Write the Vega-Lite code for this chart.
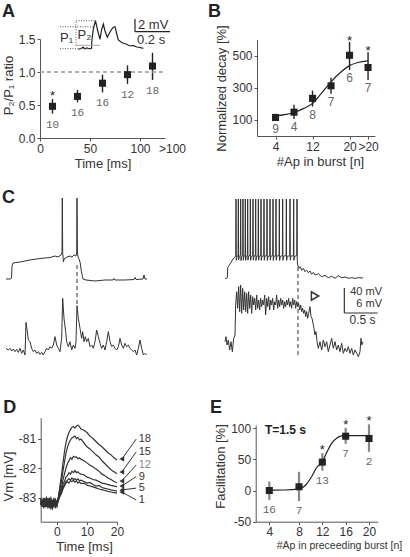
{
"$schema":"https://vega.github.io/schema/vega-lite/v6.json",
"width":410,"height":557,"padding":0,"autosize":{"type":"none"},"background":"white",
"config":{"view":{"stroke":null},"font":"Liberation Sans","axis":{"grid":false,"labelFontSize":12,"labelColor":"#333","titleFontSize":13,"titleFontWeight":"normal","titleColor":"#333","domainColor":"#555","tickColor":"#555","tickSize":3,"labelFlush":false,"labelOverlap":false,"labelPadding":2,"titlePadding":3}},
"datasets":{
"aPts":[{"x":12.5,"y":0.48,"lo":0.37,"hi":0.59,"n":"10","sig":true},{"x":37.5,"y":0.63,"lo":0.54,"hi":0.73,"n":"16","sig":false},{"x":62.5,"y":0.83,"lo":0.69,"hi":0.96,"n":"16","sig":false},{"x":87.5,"y":0.96,"lo":0.82,"hi":1.10,"n":"12","sig":false},{"x":112.5,"y":1.09,"lo":0.88,"hi":1.29,"n":"18","sig":false}],
"aTrace":[{"x":38.3,"y":1.344},{"x":41,"y":1.356},{"x":43,"y":1.374},{"x":45,"y":1.352},{"x":47,"y":1.364},{"x":49,"y":1.353},{"x":51.5,"y":1.356},{"x":52,"y":1.5},{"x":53.5,"y":1.667},{"x":55.5,"y":1.777},{"x":57.5,"y":1.636},{"x":60,"y":1.495},{"x":61.5,"y":1.636},{"x":63.3,"y":1.727},{"x":65,"y":1.621},{"x":67.3,"y":1.526},{"x":70,"y":1.606},{"x":73,"y":1.674},{"x":75,"y":1.686},{"x":76.5,"y":1.591},{"x":78.3,"y":1.485},{"x":81,"y":1.455},{"x":83.3,"y":1.435},{"x":86,"y":1.424},{"x":90,"y":1.394},{"x":93,"y":1.402},{"x":96.7,"y":1.379},{"x":100,"y":1.371},{"x":103.3,"y":1.359}],
"aDot":[{"x":20,"x2":52,"y":1.353,"y2":1.353},{"x":20,"x2":55,"y":1.686,"y2":1.686},{"x":36,"x2":56,"y":1.777,"y2":1.777},{"x":36,"x2":36,"y":1.404,"y2":1.777}],
"aGray":[{"x":36,"x2":60,"y":1.404,"y2":1.404}],
"aBar":[{"x":95,"x2":95,"y":1.611,"y2":1.803},{"x":95,"x2":130,"y":1.611,"y2":1.611}],
"aTxt":[{"x":98,"y":1.712,"t":"2 mV"},{"x":97,"y":1.485,"t":"0.2 s"},{"x":20,"y":1.515,"t":"P₁"},{"x":37.5,"y":1.56,"t":"P₂"}],
"bPts":[{"x":4,"y":115,"lo":95,"hi":138,"n":"9","sig":false},{"x":8,"y":148,"lo":105,"hi":195,"n":"4","sig":false},{"x":12,"y":234,"lo":183,"hi":282,"n":"8","sig":false},{"x":16,"y":312,"lo":262,"hi":362,"n":"7","sig":false},{"x":20,"y":502,"lo":410,"hi":585,"n":"6","sig":true},{"x":24,"y":426,"lo":348,"hi":520,"n":"7","sig":true}],
"bFit":[{"x":3.9,"y":125},{"x":6,"y":133},{"x":8.2,"y":148},{"x":10,"y":170},{"x":12,"y":203},{"x":13.9,"y":265},{"x":16,"y":337},{"x":18.2,"y":399},{"x":19.9,"y":436},{"x":21.8,"y":457},{"x":24,"y":467}],
"cLu":[{"t":0,"v":-70},{"t":60,"v":-70},{"t":82.5,"v":-68.4},{"t":90,"v":-49.2},{"t":105,"v":-44.4},{"t":210,"v":-42.8},{"t":360,"v":-39.6},{"t":510,"v":-37.2},{"t":660,"v":-35.6},{"t":735,"v":-33.2},{"t":780,"v":-34.8},{"t":825,"v":-31.6},{"t":840,"v":-28.4},{"t":844.5,"v":59.6},{"t":850.5,"v":-28.4},{"t":862.5,"v":-42.8},{"t":870,"v":-38},{"t":915,"v":-34.8},{"t":960,"v":-33.2},{"t":990,"v":-34.8},{"t":1020,"v":-31.6},{"t":1050,"v":-33.2},{"t":1060.5,"v":-28.4},{"t":1065,"v":59.6},{"t":1071,"v":-26.8},{"t":1080,"v":-34.8},{"t":1095,"v":-38},{"t":1110,"v":-42.8},{"t":1132.5,"v":-58.8},{"t":1155,"v":-70},{"t":1200,"v":-71.6},{"t":1335,"v":-73.2},{"t":1485,"v":-71.6},{"t":1605,"v":-71.6},{"t":1620,"v":-69.2},{"t":1635,"v":-71.6},{"t":1785,"v":-71.6},{"t":1920,"v":-70.8},{"t":1935,"v":-67.6},{"t":1950,"v":-70.8},{"t":2055,"v":-70},{"t":2070,"v":-63.6},{"t":2085,"v":-70},{"t":2115,"v":-70}],
"cLl":[{"t":0,"v":0.4},{"t":35,"v":0},{"t":60,"v":0.4},{"t":85,"v":-0.24},{"t":110,"v":0.24},{"t":135,"v":-0.4},{"t":160,"v":0.16},{"t":185,"v":-0.56},{"t":210,"v":0.4},{"t":235,"v":-0.8},{"t":260,"v":0},{"t":285,"v":-1.2},{"t":300,"v":6.64},{"t":320,"v":4.4},{"t":335,"v":2.4},{"t":360,"v":2.0},{"t":385,"v":0.4},{"t":410,"v":-0.4},{"t":435,"v":0},{"t":460,"v":-0.8},{"t":485,"v":-0.4},{"t":510,"v":-1.04},{"t":535,"v":-0.56},{"t":560,"v":-1.2},{"t":585,"v":-0.4},{"t":610,"v":0.4},{"t":635,"v":0},{"t":660,"v":0.8},{"t":685,"v":0.4},{"t":710,"v":1.2},{"t":735,"v":3.2},{"t":760,"v":1.2},{"t":785,"v":0.4},{"t":810,"v":-0.4},{"t":835,"v":2.8},{"t":850,"v":12.4},{"t":870,"v":7.6},{"t":895,"v":4.4},{"t":910,"v":2.0},{"t":935,"v":0.8},{"t":960,"v":2.0},{"t":985,"v":0},{"t":1010,"v":1.2},{"t":1035,"v":0.4},{"t":1050,"v":2.0},{"t":1065,"v":10.64},{"t":1085,"v":7.6},{"t":1110,"v":5.2},{"t":1135,"v":2.8},{"t":1150,"v":4.4},{"t":1170,"v":2.0},{"t":1190,"v":3.2},{"t":1210,"v":2.0},{"t":1235,"v":2.8},{"t":1260,"v":0.8},{"t":1285,"v":1.2},{"t":1310,"v":0.4},{"t":1335,"v":2.0},{"t":1360,"v":4.8},{"t":1385,"v":3.2},{"t":1410,"v":1.6},{"t":1435,"v":0.4},{"t":1460,"v":1.2},{"t":1485,"v":0},{"t":1510,"v":2.0},{"t":1535,"v":4.4},{"t":1560,"v":2.0},{"t":1585,"v":0.8},{"t":1610,"v":1.2},{"t":1635,"v":0.4},{"t":1660,"v":0},{"t":1685,"v":0.8},{"t":1710,"v":2.8},{"t":1735,"v":1.2},{"t":1760,"v":0.4},{"t":1785,"v":1.6},{"t":1810,"v":0.8},{"t":1835,"v":1.2},{"t":1860,"v":0.4},{"t":1885,"v":0},{"t":1910,"v":-0.4},{"t":1935,"v":0},{"t":1960,"v":-1.2},{"t":1985,"v":0.4},{"t":2010,"v":2.4},{"t":2035,"v":0.4},{"t":2060,"v":-1.2},{"t":2085,"v":-0.8},{"t":2110,"v":-1.2}],
"cRu":[{"t":0,"v":-70.5},{"t":20,"v":-70.5},{"t":35,"v":-69.5},{"t":40,"v":-53.5},{"t":60,"v":-50.3},{"t":90,"v":-44.9},{"t":120,"v":-39.6},{"t":150,"v":-35.9},
{"t":161,"v":-34.3},{"t":165,"v":56.4},{"t":169,"v":-41.7},{"t":179,"v":-35.3},
{"t":196,"v":-34.6},{"t":200,"v":56.4},{"t":204,"v":-41.2},{"t":214,"v":-35},
{"t":231,"v":-34},{"t":235,"v":56.4},{"t":239,"v":-42},{"t":249,"v":-35.5},
{"t":266,"v":-34.5},{"t":270,"v":56.4},{"t":274,"v":-41.5},{"t":284,"v":-34.8},
{"t":301,"v":-34.2},{"t":305,"v":56.4},{"t":309,"v":-41.9},{"t":319,"v":-35.2},
{"t":336,"v":-34.4},{"t":340,"v":56.4},{"t":344,"v":-41.3},{"t":354,"v":-35},
{"t":376,"v":-33.8},{"t":380,"v":56.4},{"t":384,"v":-41.8},{"t":394,"v":-35.4},
{"t":416,"v":-34.5},{"t":420,"v":56.4},{"t":424,"v":-41.5},{"t":434,"v":-34.9},
{"t":456,"v":-34},{"t":460,"v":56.4},{"t":464,"v":-42},{"t":474,"v":-35.3},
{"t":496,"v":-34.6},{"t":500,"v":56.4},{"t":504,"v":-41.4},{"t":514,"v":-35},
{"t":536,"v":-34.2},{"t":540,"v":56.4},{"t":544,"v":-41.8},{"t":554,"v":-35.4},
{"t":581,"v":-34.5},{"t":585,"v":56.4},{"t":589,"v":-41.6},{"t":599,"v":-35},
{"t":626,"v":-34.1},{"t":630,"v":56.4},{"t":634,"v":-42},{"t":644,"v":-35.5},
{"t":671,"v":-34.6},{"t":675,"v":56.4},{"t":679,"v":-41.3},{"t":689,"v":-35.1},
{"t":716,"v":-34.3},{"t":720,"v":56.4},{"t":724,"v":-41.8},{"t":734,"v":-35.2},
{"t":761,"v":-34.5},{"t":765,"v":56.4},{"t":769,"v":-41.5},{"t":779,"v":-35},
{"t":811,"v":-34},{"t":815,"v":56.4},{"t":819,"v":-42},{"t":829,"v":-35.4},
{"t":861,"v":-34.4},{"t":865,"v":56.4},{"t":869,"v":-41.6},{"t":879,"v":-35.1},
{"t":916,"v":-34.2},{"t":920,"v":56.4},{"t":924,"v":-41.9},{"t":934,"v":-35.3},
{"t":971,"v":-34.6},{"t":975,"v":56.4},{"t":979,"v":-41.4},{"t":989,"v":-35},
{"t":1026,"v":-34.3},{"t":1030,"v":56.4},{"t":1034,"v":-41.7},{"t":1044,"v":-35.2},
{"t":1076,"v":-34.5},{"t":1080,"v":56.4},{"t":1084,"v":-41.8},
{"t":1090,"v":-49.2},{"t":1110,"v":-54.5},{"t":1130,"v":-51.9},{"t":1150,"v":-57.7},{"t":1175,"v":-54.5},{"t":1200,"v":-59.9},{"t":1225,"v":-57.2},{"t":1250,"v":-61.5},{"t":1275,"v":-58.8},{"t":1300,"v":-64.1},{"t":1325,"v":-60.9},{"t":1350,"v":-65.2},{"t":1400,"v":-63.1},{"t":1450,"v":-67.9},{"t":1500,"v":-65.7},{"t":1550,"v":-69.5},{"t":1600,"v":-67.3},{"t":1650,"v":-70.5},{"t":1700,"v":-66.3},{"t":1750,"v":-69.5},{"t":1800,"v":-68.4},{"t":1850,"v":-70.5},{"t":1900,"v":-69.5},{"t":1950,"v":-70.5},{"t":2000,"v":-69.5},{"t":2070,"v":-70}],
"cRl":[{"t":0,"v":1.28},{"t":15,"v":2.48},{"t":30,"v":0.48},{"t":50,"v":1.68},{"t":70,"v":-0.72},{"t":90,"v":1.28},{"t":110,"v":-1.12},{"t":130,"v":2.08},{"t":150,"v":2.88},{"t":160,"v":10.08},{"t":175,"v":13.28},{"t":190,"v":9.28},{"t":205,"v":14.48},{"t":220,"v":8.48},{"t":235,"v":14.88},{"t":250,"v":8.08},{"t":265,"v":14.08},{"t":280,"v":8.88},{"t":295,"v":13.28},{"t":310,"v":8.48},{"t":325,"v":12.88},{"t":340,"v":8.08},{"t":355,"v":13.28},{"t":370,"v":9.28},{"t":385,"v":12.48},{"t":400,"v":8.08},{"t":415,"v":12.08},{"t":430,"v":10.08},{"t":445,"v":11.68},{"t":460,"v":8.88},{"t":475,"v":12.48},{"t":490,"v":9.28},{"t":505,"v":11.28},{"t":520,"v":8.88},{"t":535,"v":11.68},{"t":550,"v":9.68},{"t":565,"v":11.28},{"t":580,"v":10.08},{"t":595,"v":12.48},{"t":610,"v":7.68},{"t":625,"v":11.68},{"t":640,"v":9.68},{"t":655,"v":12.08},{"t":670,"v":8.88},{"t":685,"v":11.28},{"t":700,"v":10.08},{"t":715,"v":11.68},{"t":730,"v":8.88},{"t":745,"v":10.88},{"t":760,"v":10.08},{"t":775,"v":12.48},{"t":790,"v":9.28},{"t":805,"v":11.28},{"t":820,"v":9.68},{"t":835,"v":11.68},{"t":850,"v":10.08},{"t":865,"v":11.28},{"t":880,"v":9.28},{"t":895,"v":10.88},{"t":910,"v":9.68},{"t":925,"v":11.28},{"t":940,"v":10.08},{"t":955,"v":11.68},{"t":970,"v":9.68},{"t":985,"v":10.88},{"t":1000,"v":9.28},{"t":1015,"v":11.68},{"t":1030,"v":10.08},{"t":1045,"v":11.28},{"t":1060,"v":9.28},{"t":1075,"v":10.88},{"t":1090,"v":9.68},{"t":1105,"v":10.48},{"t":1120,"v":8.88},{"t":1135,"v":10.08},{"t":1150,"v":8.48},{"t":1165,"v":9.28},{"t":1180,"v":8.08},{"t":1195,"v":8.88},{"t":1210,"v":7.28},{"t":1225,"v":8.48},{"t":1240,"v":6.88},{"t":1255,"v":8.08},{"t":1275,"v":9.68},{"t":1290,"v":7.28},{"t":1305,"v":6.88},{"t":1320,"v":5.68},{"t":1335,"v":4.48},{"t":1350,"v":2.88},{"t":1365,"v":3.68},{"t":1380,"v":1.28},{"t":1400,"v":-0.32},{"t":1425,"v":1.28},{"t":1450,"v":-0.72},{"t":1475,"v":1.68},{"t":1500,"v":0.08},{"t":1525,"v":1.28},{"t":1550,"v":-1.12},{"t":1575,"v":0.48},{"t":1600,"v":2.08},{"t":1625,"v":-0.32},{"t":1650,"v":1.28},{"t":1675,"v":-0.72},{"t":1700,"v":0.48},{"t":1725,"v":-1.12},{"t":1750,"v":0.88},{"t":1775,"v":-1.52},{"t":1800,"v":-0.32},{"t":1825,"v":-1.12},{"t":1850,"v":0.08},{"t":1875,"v":-1.52},{"t":1900,"v":-0.32},{"t":1925,"v":-1.92},{"t":1950,"v":-0.72},{"t":1975,"v":-1.52},{"t":2000,"v":-2.32},{"t":2025,"v":-1.12},{"t":2040,"v":2.08},{"t":2050,"v":0.48},{"t":2070,"v":1.28}],
"cRbar":[{"t":1790,"t2":1790,"v":-126,"v2":-86},{"t":1790,"t2":2290,"v":-126,"v2":-126}],
"cRtxt":[{"t":2355,"v":-92.4,"s":"40 mV"},{"t":2355,"v":-110.8,"s":"6 mV"}],
"dTr":[{"t":-5.4,"a":-83.15,"b":-83.05,"c":-83.25,"d":-83.1,"e":-83.2,"f":-83.0},{"t":-5,"a":-83.3,"b":-83.2,"c":-83.1,"d":-83.25,"e":-83.05,"f":-83.2},{"t":-4.5,"a":-83.05,"b":-83.3,"c":-83.2,"d":-83.0,"e":-83.3,"f":-83.15},{"t":-4,"a":-83.25,"b":-83.1,"c":-83.0,"d":-83.3,"e":-83.15,"f":-83.3},{"t":-3.5,"a":-83.1,"b":-83.25,"c":-83.3,"d":-83.15,"e":-83.0,"f":-83.1},{"t":-3,"a":-83.3,"b":-83.0,"c":-83.15,"d":-83.25,"e":-83.25,"f":-83.35},{"t":-2.5,"a":-83.0,"b":-83.2,"c":-83.3,"d":-83.05,"e":-83.1,"f":-83.15},{"t":-2,"a":-83.2,"b":-83.35,"c":-83.05,"d":-83.2,"e":-83.3,"f":-83.0},{"t":-1.5,"a":-83.35,"b":-83.1,"c":-83.25,"d":-83.3,"e":-83.15,"f":-83.25},{"t":-1,"a":-83.1,"b":-83.25,"c":-83.1,"d":-83.0,"e":-83.3,"f":-83.2},{"t":-0.5,"a":-83.25,"b":-83.05,"c":-83.3,"d":-83.2,"e":-83.1,"f":-83.3},{"t":0,"a":-83.1,"b":-83.2,"c":-83.15,"d":-83.3,"e":-83.2,"f":-83.1},{"t":0.5,"a":-83.05,"b":-83.1,"c":-83.0,"d":-83.05,"e":-82.95,"f":-83.0},{"t":1,"a":-82.95,"b":-82.9,"c":-82.85,"d":-82.8,"e":-82.7,"f":-82.6},{"t":1.5,"a":-82.85,"b":-82.8,"c":-82.75,"d":-82.65,"e":-82.45,"f":-82.25},{"t":2,"a":-82.7,"b":-82.65,"c":-82.55,"d":-82.4,"e":-82.1,"f":-81.85},{"t":2.5,"a":-82.6,"b":-82.55,"c":-82.45,"d":-82.2,"e":-81.8,"f":-81.45},{"t":3,"a":-82.5,"b":-82.45,"c":-82.3,"d":-82.0,"e":-81.5,"f":-81.15},{"t":3.5,"a":-82.45,"b":-82.4,"c":-82.25,"d":-81.85,"e":-81.3,"f":-80.95},{"t":4,"a":-82.5,"b":-82.35,"c":-82.15,"d":-81.75,"e":-81.15,"f":-80.8},{"t":4.5,"a":-82.42,"b":-82.4,"c":-82.2,"d":-81.65,"e":-81.05,"f":-80.7},{"t":5,"a":-82.45,"b":-82.33,"c":-82.1,"d":-81.7,"e":-80.98,"f":-80.62},{"t":5.5,"a":-82.4,"b":-82.38,"c":-82.15,"d":-81.6,"e":-80.95,"f":-80.6},{"t":6,"a":-82.47,"b":-82.35,"c":-82.08,"d":-81.63,"e":-80.92,"f":-80.65},{"t":6.5,"a":-82.43,"b":-82.4,"c":-82.15,"d":-81.62,"e":-81.0,"f":-80.58},{"t":7,"a":-82.5,"b":-82.36,"c":-82.12,"d":-81.68,"e":-80.96,"f":-80.55},{"t":7.5,"a":-82.46,"b":-82.42,"c":-82.18,"d":-81.65,"e":-81.05,"f":-80.6},{"t":8,"a":-82.52,"b":-82.4,"c":-82.2,"d":-81.7,"e":-81.02,"f":-80.68},{"t":9,"a":-82.5,"b":-82.45,"c":-82.22,"d":-81.75,"e":-81.15,"f":-80.72},{"t":10,"a":-82.57,"b":-82.5,"c":-82.3,"d":-81.82,"e":-81.28,"f":-80.8},{"t":11,"a":-82.6,"b":-82.48,"c":-82.33,"d":-81.9,"e":-81.35,"f":-80.92},{"t":12,"a":-82.63,"b":-82.55,"c":-82.38,"d":-81.95,"e":-81.45,"f":-81.0},{"t":13,"a":-82.66,"b":-82.6,"c":-82.4,"d":-82.03,"e":-81.55,"f":-81.1},{"t":14,"a":-82.7,"b":-82.58,"c":-82.45,"d":-82.1,"e":-81.62,"f":-81.2},{"t":15,"a":-82.72,"b":-82.65,"c":-82.5,"d":-82.2,"e":-81.75,"f":-81.28},{"t":16,"a":-82.75,"b":-82.68,"c":-82.52,"d":-82.25,"e":-81.85,"f":-81.38},{"t":17,"a":-82.78,"b":-82.7,"c":-82.55,"d":-82.33,"e":-81.95,"f":-81.48},{"t":18,"a":-82.8,"b":-82.73,"c":-82.58,"d":-82.38,"e":-82.05,"f":-81.55},{"t":19,"a":-82.82,"b":-82.75,"c":-82.6,"d":-82.45,"e":-82.12,"f":-81.65},{"t":20,"a":-82.84,"b":-82.77,"c":-82.62,"d":-82.49,"e":-82.19,"f":-81.72}],
"dArr":[{"lab":"18","sx":26.4,"lx":27.2,"ly":-81.02,"ex":21.6,"ey":-81.69},{"lab":"15","sx":26.4,"lx":27.2,"ly":-81.45,"ex":21.6,"ey":-82.13},{"lab":"12","sx":26.4,"lx":27.2,"ly":-81.89,"ex":21.6,"ey":-82.43},{"lab":"9","sx":26.4,"lx":27.2,"ly":-82.28,"ex":21.6,"ey":-82.6},{"lab":"5","sx":26.4,"lx":27.2,"ly":-82.67,"ex":21.6,"ey":-82.73},{"lab":"1","sx":26.4,"lx":27.2,"ly":-83.07,"ex":21.6,"ey":-82.8}],
"ePts":[{"x":4,"y":0,"lo":-15,"hi":14.5,"n":"16","sig":false},{"x":8,"y":6,"lo":-17,"hi":30,"n":"7","sig":false},{"x":12,"y":45.5,"lo":31.6,"hi":60,"n":"13","sig":true},{"x":16,"y":87,"lo":74.8,"hi":100.5,"n":"7","sig":true},{"x":20,"y":83.4,"lo":62,"hi":106,"n":"2","sig":true}],
"eFit":[{"x":4,"y":0.5},{"x":6,"y":0.8},{"x":8,"y":2.5},{"x":9.3,"y":10.4},{"x":10.2,"y":22.8},{"x":11,"y":36.5},{"x":12,"y":46.2},{"x":12.75,"y":60.9},{"x":13.6,"y":75.6},{"x":14.45,"y":83.7},{"x":15.3,"y":87.5},{"x":16,"y":88},{"x":18,"y":88},{"x":20,"y":88}]
},
"layer":[
{"layer":[
 {"data":{"name":"aPts"},"mark":{"type":"rule","color":"#222","strokeWidth":1.4},
  "encoding":{
   "x":{"field":"x","type":"quantitative","scale":{"domain":[0,125],"range":[40,165],"nice":false,"zero":false},
        "axis":{"orient":"bottom","offset":-419,"values":[0,50,100,125],"labelExpr":"datum.value==125 ? '>100' : datum.label","labelOffset":{"condition":{"test":"datum.value==125","value":7},"value":0},"tickOpacity":{"condition":{"test":"datum.value==125","value":0},"value":1},"title":"Time [ms]"}},
   "y":{"field":"lo","type":"quantitative","scale":{"domain":[0,1.5],"range":[138,39],"nice":false,"zero":false},
        "axis":{"orient":"left","offset":-40,"values":[0,0.5,1,1.5],"format":".1f","title":"P₂/P₁ ratio","titleY":85}},
   "y2":{"field":"hi"}}},
 {"data":{"values":[{}]},"mark":{"type":"rule","color":"#999","strokeDash":[4,3],"strokeWidth":1.3},"encoding":{"x":{"datum":0,"type":"quantitative"},"x2":{"datum":125},"y":{"datum":1,"type":"quantitative"}}},
 {"data":{"name":"aPts"},"mark":{"type":"point","shape":"square","filled":true,"color":"#222","size":50,"opacity":1},"encoding":{"x":{"field":"x","type":"quantitative"},"y":{"field":"y","type":"quantitative"}}},
 {"data":{"name":"aPts"},"mark":{"type":"text","font":"Liberation Mono","fontSize":11,"color":"#666","baseline":"middle","dy":11},"encoding":{"x":{"field":"x","type":"quantitative"},"y":{"field":"lo","type":"quantitative"},"text":{"field":"n"}}},
 {"data":{"name":"aPts"},"transform":[{"filter":"datum.sig"}],"mark":{"type":"text","fontSize":13,"color":"#222","baseline":"alphabetic","dy":1},"encoding":{"x":{"field":"x","type":"quantitative"},"y":{"field":"hi","type":"quantitative"},"text":{"value":"*"}}},
 {"data":{"name":"aTrace"},"mark":{"type":"line","color":"#222","strokeWidth":1.2},"encoding":{"x":{"field":"x","type":"quantitative"},"y":{"field":"y","type":"quantitative"}}},
 {"data":{"name":"aDot"},"mark":{"type":"rule","color":"#555","strokeDash":[1,1.5],"strokeWidth":1},"encoding":{"x":{"field":"x","type":"quantitative"},"x2":{"field":"x2"},"y":{"field":"y","type":"quantitative"},"y2":{"field":"y2"}}},
 {"data":{"name":"aGray"},"mark":{"type":"rule","color":"#aaa","strokeWidth":1},"encoding":{"x":{"field":"x","type":"quantitative"},"x2":{"field":"x2"},"y":{"field":"y","type":"quantitative"},"y2":{"field":"y2"}}},
 {"data":{"name":"aBar"},"mark":{"type":"rule","color":"#222","strokeWidth":1.2},"encoding":{"x":{"field":"x","type":"quantitative"},"x2":{"field":"x2"},"y":{"field":"y","type":"quantitative"},"y2":{"field":"y2"}}},
 {"data":{"name":"aTxt"},"mark":{"type":"text","fontSize":13,"color":"#333","align":"left","baseline":"middle"},"encoding":{"x":{"field":"x","type":"quantitative"},"y":{"field":"y","type":"quantitative"},"text":{"field":"t"}}},
 {"data":{"values":[{"x":-38,"y":1.833,"s":"A"}]},"mark":{"type":"text","fontSize":18,"fontWeight":"bold","color":"#222","align":"left","baseline":"alphabetic"},"encoding":{"x":{"field":"x","type":"quantitative"},"y":{"field":"y","type":"quantitative"},"text":{"field":"s"}}}
]},
{"layer":[
 {"data":{"name":"bPts"},"mark":{"type":"rule","color":"#222","strokeWidth":1.4},
  "encoding":{
   "x":{"field":"x","type":"quantitative","scale":{"domain":[0,25.5],"range":[257,375],"nice":false,"zero":false},
        "axis":{"orient":"bottom","offset":-421,"values":[4,12,20,24],"labelExpr":"datum.value==24 ? '>20' : datum.label","title":"#Ap in burst [n]","titleX":320}},
   "y":{"field":"lo","type":"quantitative","scale":{"domain":[0,600],"range":[136,39.5],"nice":false,"zero":false},
        "axis":{"orient":"left","offset":-257,"values":[100,300,500],"title":"Normalized decay [%]","titleY":88}},
   "y2":{"field":"hi"}}},
 {"data":{"name":"bFit"},"mark":{"type":"line","color":"#222","strokeWidth":1.2,"interpolate":"monotone"},"encoding":{"x":{"field":"x","type":"quantitative"},"y":{"field":"y","type":"quantitative"}}},
 {"data":{"name":"bPts"},"mark":{"type":"point","shape":"square","filled":true,"color":"#222","size":50,"opacity":1},"encoding":{"x":{"field":"x","type":"quantitative"},"y":{"field":"y","type":"quantitative"}}},
 {"data":{"name":"bPts"},"mark":{"type":"text","fontSize":12,"color":"#666","baseline":"middle","dy":8},"encoding":{"x":{"field":"x","type":"quantitative"},"y":{"field":"lo","type":"quantitative"},"text":{"field":"n"}}},
 {"data":{"name":"bPts"},"transform":[{"filter":"datum.sig"}],"mark":{"type":"text","fontSize":13,"color":"#222","baseline":"alphabetic","dy":3},"encoding":{"x":{"field":"x","type":"quantitative"},"y":{"field":"hi","type":"quantitative"},"text":{"value":"*"}}},
 {"data":{"values":[{"x":-10.6,"y":740,"s":"B"}]},"mark":{"type":"text","fontSize":18,"fontWeight":"bold","color":"#222","align":"left","baseline":"alphabetic"},"encoding":{"x":{"field":"x","type":"quantitative"},"y":{"field":"y","type":"quantitative"},"text":{"field":"s"}}}
]},
{"layer":[
 {"layer":[
  {"data":{"name":"cLu"},"mark":{"type":"line","color":"#333","strokeWidth":1},"encoding":{"x":{"field":"t","type":"quantitative","scale":{"domain":[0,2115],"range":[6,147],"nice":false,"zero":false},"axis":null},"y":{"field":"v","type":"quantitative","scale":{"domain":[-70,59.6],"range":[279,198],"nice":false,"zero":false},"axis":null}}},
  {"data":{"values":[{}]},"mark":{"type":"rule","color":"#555","strokeDash":[4,3],"strokeWidth":1.2},"encoding":{"x":{"datum":1065,"type":"quantitative","axis":null},"y":{"datum":-47.6,"type":"quantitative","axis":null},"y2":{"datum":-114.8}}},
  {"data":{"values":[{"t":-60,"v":51.6,"s":"C"}]},"mark":{"type":"text","fontSize":18,"fontWeight":"bold","color":"#222","align":"left","baseline":"alphabetic"},"encoding":{"x":{"field":"t","type":"quantitative","axis":null},"y":{"field":"v","type":"quantitative","axis":null},"text":{"field":"s"}}}
 ]},
 {"data":{"name":"cLl"},"mark":{"type":"line","color":"#333","strokeWidth":1},"encoding":{"x":{"field":"t","type":"quantitative","axis":null},"y":{"field":"v","type":"quantitative","scale":{"domain":[0,12],"range":[350,300],"nice":false,"zero":false},"axis":null}}}
 ],
 "resolve":{"scale":{"y":"independent"}}
},
{"layer":[
 {"layer":[
  {"data":{"name":"cRu"},"mark":{"type":"line","color":"#333","strokeWidth":1},"encoding":{"x":{"field":"t","type":"quantitative","scale":{"domain":[0,2070],"range":[225,363],"nice":false,"zero":false},"axis":null},"y":{"field":"v","type":"quantitative","scale":{"domain":[-70,60],"range":[278,196.75],"nice":false,"zero":false},"axis":null}}},
  {"data":{"values":[{}]},"mark":{"type":"rule","color":"#555","strokeDash":[4,3],"strokeWidth":1.2},"encoding":{"x":{"datum":1095,"type":"quantitative","axis":null},"y":{"datum":-52.4,"type":"quantitative","axis":null},"y2":{"datum":-198}}},
  {"data":{"name":"cRbar"},"mark":{"type":"rule","color":"#333","strokeWidth":1.2},"encoding":{"x":{"field":"t","type":"quantitative","axis":null},"x2":{"field":"t2"},"y":{"field":"v","type":"quantitative","axis":null},"y2":{"field":"v2"}}},
  {"data":{"name":"cRtxt"},"mark":{"type":"text","fontSize":11,"color":"#333","align":"right","baseline":"middle"},"encoding":{"x":{"field":"t","type":"quantitative","axis":null},"y":{"field":"v","type":"quantitative","axis":null},"text":{"field":"s"}}},
  {"data":{"values":[{"t":2062,"v":-137.2,"s":"0.5 s"}]},"mark":{"type":"text","fontSize":12,"color":"#333","align":"center","baseline":"middle"},"encoding":{"x":{"field":"t","type":"quantitative","axis":null},"y":{"field":"v","type":"quantitative","axis":null},"text":{"field":"s"}}}
 ]},
 {"layer":[
  {"data":{"name":"cRl"},"mark":{"type":"line","color":"#333","strokeWidth":1},"encoding":{"x":{"field":"t","type":"quantitative","axis":null},"y":{"field":"v","type":"quantitative","scale":{"domain":[0,12],"range":[347,297],"nice":false,"zero":false},"axis":null}}},
  {"data":{"values":[{"t":1350,"v":12.24}]},"mark":{"type":"point","shape":"triangle-right","filled":false,"color":"#333","strokeWidth":1.5,"size":70,"opacity":1},"encoding":{"x":{"field":"t","type":"quantitative","axis":null},"y":{"field":"v","type":"quantitative","axis":null}}}
 ]}
 ],
 "resolve":{"scale":{"y":"independent"}}
},
{"layer":[
 {"data":{"name":"dTr"},"transform":[{"fold":["a","b","c","d","e","f"],"as":["k","v"]}],"mark":{"type":"line","color":"#333","strokeWidth":1.2},
  "encoding":{
   "x":{"field":"t","type":"quantitative","scale":{"domain":[-5.4,20],"range":[40.7,117],"nice":false,"zero":false},
        "axis":{"orient":"bottom","offset":-35.3,"values":[0,10,20],"title":"Time [ms]","titleX":84}},
   "y":{"field":"v","type":"quantitative","scale":{"domain":[-83.8,-80.3],"range":[521.7,417.7],"nice":false,"zero":false},
        "axis":{"orient":"left","offset":-40.7,"values":[-83,-82,-81],"labelExpr":"'-' + abs(datum.value)","title":"Vm [mV]","titleY":476}},
   "detail":{"field":"k"}}},
 {"data":{"name":"dArr"},"mark":{"type":"rule","color":"#333","strokeWidth":1},"encoding":{"x":{"field":"sx","type":"quantitative"},"x2":{"field":"ex"},"y":{"field":"ly","type":"quantitative"},"y2":{"field":"ey"}}},
 {"data":{"name":"dArr"},"mark":{"type":"point","shape":"triangle-left","filled":true,"color":"#333","size":30,"opacity":1},"encoding":{"x":{"field":"ex","type":"quantitative"},"y":{"field":"ey","type":"quantitative"}}},
 {"data":{"name":"dArr"},"mark":{"type":"text","fontSize":11,"align":"left","baseline":"middle"},"encoding":{"x":{"field":"lx","type":"quantitative"},"y":{"field":"ly","type":"quantitative"},"text":{"field":"lab"},"color":{"condition":{"test":"datum.lab=='12'","value":"#888"},"value":"#333"}}},
 {"data":{"values":[{"x":-17.9,"y":-80.14,"s":"D"}]},"mark":{"type":"text","fontSize":18,"fontWeight":"bold","color":"#222","align":"left","baseline":"alphabetic"},"encoding":{"x":{"field":"x","type":"quantitative"},"y":{"field":"y","type":"quantitative"},"text":{"field":"s"}}}
]},
{"layer":[
 {"data":{"name":"ePts"},"mark":{"type":"rule","color":"#888","strokeWidth":2.2},
  "encoding":{
   "x":{"field":"x","type":"quantitative","scale":{"domain":[2.17,4,8,20,21.5],"range":[255.7,269.3,299,369,377.8],"nice":false,"zero":false},
        "axis":{"orient":"bottom","offset":-35.3,"values":[4,8,12,16,20],"title":"#Ap in preceeding burst [n]","titleX":339,"titleFontSize":10.5}},
   "y":{"field":"lo","type":"quantitative","scale":{"domain":[-50,105],"range":[521.7,425],"nice":false,"zero":false},
        "axis":{"orient":"left","offset":-255.7,"values":[-50,0,50,100],"labelExpr":"datum.value < 0 ? '-' + abs(datum.value) : datum.label","title":"Facilitation [%]","titleY":466}},
   "y2":{"field":"hi"}}},
 {"data":{"name":"eFit"},"mark":{"type":"line","color":"#222","strokeWidth":1.2,"interpolate":"monotone"},"encoding":{"x":{"field":"x","type":"quantitative"},"y":{"field":"y","type":"quantitative"}}},
 {"data":{"name":"ePts"},"mark":{"type":"point","shape":"square","filled":true,"color":"#222","size":50,"opacity":1},"encoding":{"x":{"field":"x","type":"quantitative"},"y":{"field":"y","type":"quantitative"}}},
 {"data":{"name":"ePts"},"mark":{"type":"text","font":"Liberation Mono","fontSize":11,"color":"#666","baseline":"middle","dy":10},"encoding":{"x":{"field":"x","type":"quantitative"},"y":{"field":"lo","type":"quantitative"},"text":{"field":"n"}}},
 {"data":{"name":"ePts"},"transform":[{"filter":"datum.sig"}],"mark":{"type":"text","fontSize":13,"color":"#222","baseline":"alphabetic","dy":1},"encoding":{"x":{"field":"x","type":"quantitative"},"y":{"field":"hi","type":"quantitative"},"text":{"value":"*"}}},
 {"data":{"values":[{"x":3.42,"y":97,"s":"T=1.5 s"}]},"mark":{"type":"text","fontSize":12,"fontWeight":"bold","color":"#222","align":"left","baseline":"middle"},"encoding":{"x":{"field":"x","type":"quantitative"},"y":{"field":"y","type":"quantitative"},"text":{"field":"s"}}},
 {"data":{"values":[{"x":-3.98,"y":124.2,"s":"E"}]},"mark":{"type":"text","fontSize":18,"fontWeight":"bold","color":"#222","align":"left","baseline":"alphabetic"},"encoding":{"x":{"field":"x","type":"quantitative"},"y":{"field":"y","type":"quantitative"},"text":{"field":"s"}}}
]}
],
"resolve":{"scale":{"x":"independent","y":"independent"},"axis":{"x":"independent","y":"independent"}}
}
